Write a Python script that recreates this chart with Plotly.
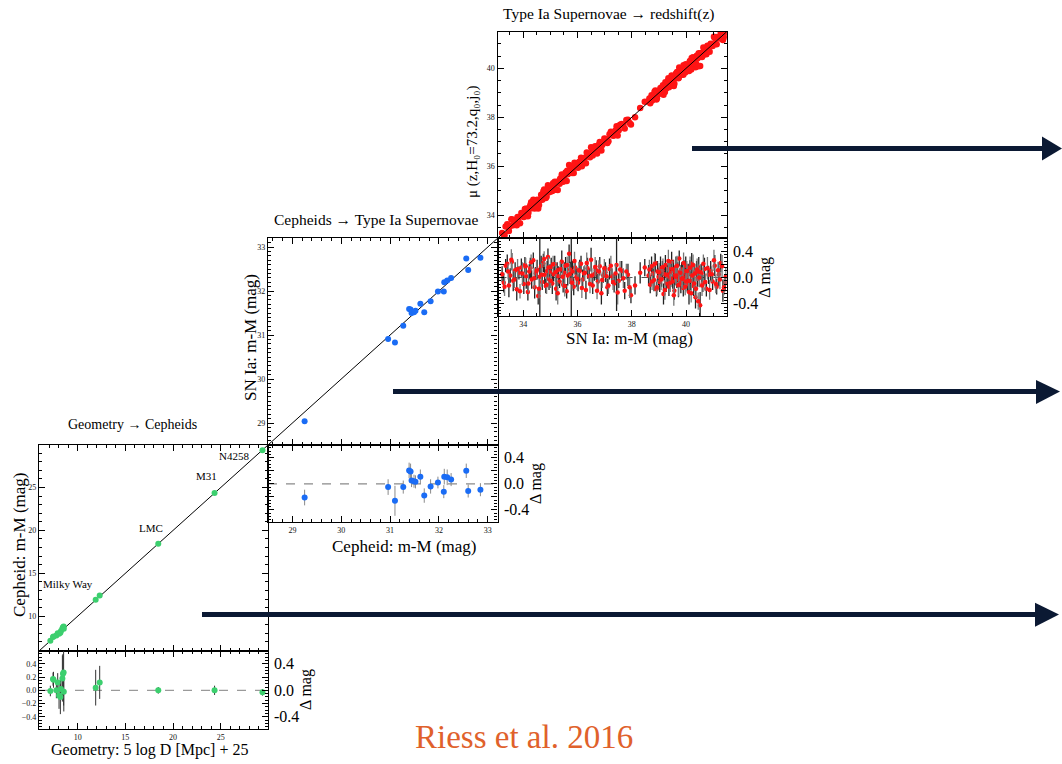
import plotly.graph_objects as go

W, H = 1062, 764
SERIF = "Liberation Serif"

# ---------------- data ----------------
# Panel 1: Geometry -> Cepheids
geo_x = [7.14, 7.42, 7.47, 7.77, 7.91, 8.05, 8.19, 8.25, 8.40, 8.46, 8.53, 8.55, 11.89, 12.31, 18.45, 24.35, 29.37]
geo_y = [7.13, 7.59, 7.63, 7.77, 8.03, 7.97, 8.09, 8.27, 8.58, 8.71, 8.80, 8.53, 11.93, 12.43, 18.45, 24.35, 29.34]
geo_res = [-0.01, 0.17, 0.16, 0.00, 0.12, -0.08, -0.10, 0.02, 0.18, 0.25, 0.27, -0.02, 0.04, 0.12, 0.00, 0.00, -0.03]
geo_err = [0.08, 0.10, 0.12, 0.12, 0.14, 0.20, 0.26, 0.15, 0.35, 0.30, 0.50, 0.30, 0.27, 0.25, 0.05, 0.07, 0.05]
geo_names = ["Milky Way", "LMC", "M31", "N4258"]
geo_name_x = [6.2, 17.7, 23.5, 26.4]
geo_name_y = [13.8, 20.3, 26.3, 28.7]

# Panel 2: Cepheids -> SN Ia
cep_x = [29.25, 30.96, 31.10, 31.27, 31.39, 31.42, 31.44, 31.49, 31.52, 31.62, 31.70, 31.83, 31.98, 32.10, 32.11, 32.17, 32.25, 32.56, 32.60, 32.85]
cep_y = [29.04, 30.91, 30.83, 31.21, 31.59, 31.58, 31.50, 31.52, 31.55, 31.71, 31.52, 31.77, 31.99, 31.99, 32.20, 32.24, 32.30, 32.74, 32.48, 32.76]
cep_res = [-0.21, -0.05, -0.26, -0.05, 0.205, 0.19, 0.05, 0.04, 0.03, 0.11, -0.18, -0.04, 0.02, -0.12, 0.11, 0.10, 0.065, 0.20, -0.11, -0.09]
cep_err = [0.12, 0.12, 0.23, 0.10, 0.12, 0.12, 0.10, 0.10, 0.10, 0.11, 0.11, 0.11, 0.09, 0.10, 0.12, 0.12, 0.10, 0.11, 0.10, 0.10]

# Panel 3: SN Ia -> redshift (sample 1)
sn_x = [33.22, 33.28, 33.35, 33.41, 33.47, 33.52, 33.58, 33.63, 33.70, 33.76, 33.84, 33.93,
        34.02, 34.06, 34.11, 34.17, 34.22, 34.26, 34.31, 34.37, 34.42, 34.46, 34.51, 34.55, 34.61, 34.66, 34.70, 34.74, 34.79, 34.83, 34.88, 34.91, 34.95, 34.98,
        35.03, 35.07, 35.12, 35.16, 35.21, 35.25, 35.29, 35.34, 35.38, 35.42, 35.47, 35.51, 35.56, 35.60, 35.64, 35.69, 35.73, 35.77, 35.82, 35.86, 35.91, 35.96,
        36.02, 36.08, 36.13, 36.19, 36.24, 36.31, 36.37, 36.43, 36.50, 36.56, 36.62, 36.69, 36.75, 36.82, 36.88, 36.95,
        37.03, 37.10, 37.18, 37.27, 37.35, 37.44, 37.52, 37.63, 37.74, 37.86, 37.97, 38.12, 38.31, 38.48,
        38.62, 38.68, 38.73, 38.78, 38.82, 38.87, 38.91, 38.95, 38.99, 39.03, 39.06, 39.10, 39.13, 39.17, 39.20, 39.24, 39.27, 39.31, 39.34, 39.37,
        39.41, 39.44, 39.47, 39.51, 39.54, 39.57, 39.60, 39.63, 39.66, 39.69, 39.72, 39.75, 39.78, 39.81, 39.84, 39.87, 39.90, 39.93, 39.96, 39.99,
        40.02, 40.05, 40.08, 40.11, 40.14, 40.17, 40.21, 40.24, 40.28, 40.31, 40.35, 40.39, 40.43, 40.47, 40.52, 40.57, 40.62, 40.68, 40.75, 40.83,
        40.91, 40.98, 41.06, 41.13, 41.21, 41.28, 41.36, 41.44]
sn_mu = [33.27, 33.20, 33.53, 33.62, 33.35, 33.55, 33.82, 33.58, 33.81, 33.58, 33.91, 34.08,
         33.92, 34.25, 34.13, 33.95, 34.31, 34.40, 34.28, 34.63, 34.27, 34.52, 34.63, 34.27, 34.62, 34.83, 34.63, 34.96, 34.83, 34.70, 34.98, 35.22, 34.93, 35.06,
         35.19, 34.98, 35.17, 35.36, 35.04, 35.36, 35.31, 35.28, 35.51, 35.66, 35.36, 35.58, 35.74, 35.39, 35.67, 36.05, 35.85, 35.73, 35.91, 35.72, 36.06, 35.97,
         35.94, 36.18, 36.34, 36.16, 36.30, 36.12, 36.51, 36.45, 36.77, 36.44, 36.67, 36.80, 36.69, 36.99, 36.64, 36.98,
         37.11, 36.95, 37.31, 37.29, 37.26, 37.63, 37.47, 37.73, 37.54, 37.90, 37.70, 38.00, 38.38, 38.63,
         38.65, 38.57, 38.90, 38.84, 38.78, 39.09, 38.73, 39.04, 39.00, 38.96, 39.20, 39.08, 39.24, 38.92, 39.25, 39.43, 39.18, 39.33, 39.47, 39.23,
         39.48, 39.43, 39.71, 39.45, 39.64, 39.37, 39.64, 39.79, 39.63, 39.77, 39.60, 40.04, 39.78, 39.73, 39.96, 39.92, 39.74, 40.02, 39.92, 40.17,
         40.04, 39.95, 40.14, 39.89, 40.28, 40.12, 40.42, 40.27, 40.15, 40.39, 40.05, 40.50, 40.41, 40.62, 40.10, 40.63, 40.53, 40.81, 40.58, 40.87,
         41.01, 40.92, 41.24, 40.99, 41.26, 41.50, 41.16, 41.36]
sn_res = [0.05, -0.08, 0.18, 0.21, -0.12, 0.03, 0.24, -0.05, 0.11, -0.18, 0.07, 0.15,
          -0.10, 0.19, 0.02, -0.22, 0.09, 0.14, -0.03, 0.26, -0.15, 0.06, 0.12, -0.28, 0.01, 0.17, -0.07, 0.22, 0.04, -0.13, 0.10, 0.31, -0.02, 0.08,
          0.16, -0.09, 0.05, 0.20, -0.17, 0.11, 0.02, -0.06, 0.13, 0.24, -0.11, 0.07, 0.18, -0.21, 0.03, 0.36, 0.12, -0.04, 0.09, -0.14, 0.15, 0.01,
          -0.08, 0.10, 0.21, -0.03, 0.06, -0.19, 0.14, 0.02, 0.27, -0.12, 0.05, 0.11, -0.06, 0.17, -0.24, 0.03,
          0.08, -0.15, 0.13, 0.02, -0.09, 0.19, -0.05, 0.10, -0.20, 0.04, -0.27, -0.12, 0.07, 0.15,
          0.03, -0.11, 0.17, 0.06, -0.04, 0.22, -0.18, 0.09, 0.01, -0.07, 0.14, -0.02, 0.11, -0.25, 0.05, 0.19, -0.09, 0.02, 0.13, -0.14,
          0.07, -0.01, 0.24, -0.06, 0.10, -0.20, 0.04, 0.16, -0.03, 0.08, -0.12, 0.29, 0.00, -0.08, 0.12, 0.05, -0.16, 0.09, -0.04, 0.18,
          0.02, -0.10, 0.06, -0.22, 0.14, -0.05, 0.21, 0.03, -0.13, 0.08, -0.30, 0.11, -0.02, 0.15, -0.42, 0.06, -0.09, 0.13, -0.17, 0.04,
          0.10, -0.06, 0.18, -0.14, 0.05, 0.22, -0.20, -0.08]
sn_err = [0.12, 0.15, 0.10, 0.14, 0.18, 0.11, 0.13, 0.16, 0.12, 0.17, 0.10, 0.14,
          0.15, 0.12, 0.19, 0.13, 0.11, 0.16, 0.14, 0.12, 0.17, 0.10, 0.15, 0.13, 0.70, 0.16, 0.12, 0.14, 0.18, 0.11, 0.15, 0.13, 0.17, 0.12,
          0.14, 0.16, 0.11, 0.13, 0.18, 0.12, 0.15, 0.10, 0.14, 0.17, 0.12, 0.16, 0.13, 0.11, 0.15, 0.14, 0.12, 0.70, 0.16, 0.13, 0.11, 0.15,
          0.13, 0.17, 0.12, 0.15, 0.11, 0.14, 0.16, 0.12, 0.18, 0.13, 0.10, 0.15, 0.12, 0.14, 0.17, 0.11,
          0.15, 0.13, 0.16, 0.12, 0.14, 0.70, 0.11, 0.15, 0.13, 0.17, 0.12, 0.14, 0.16, 0.13,
          0.16, 0.13, 0.15, 0.12, 0.17, 0.14, 0.11, 0.16, 0.13, 0.15, 0.18, 0.12, 0.14, 0.16, 0.11, 0.15, 0.13, 0.17, 0.12, 0.14,
          0.16, 0.13, 0.15, 0.11, 0.17, 0.14, 0.12, 0.16, 0.13, 0.15, 0.18, 0.12, 0.14, 0.16, 0.11, 0.15, 0.13, 0.17, 0.12, 0.14,
          0.16, 0.13, 0.15, 0.19, 0.12, 0.14, 0.16, 0.13, 0.15, 0.11, 0.17, 0.14, 0.12, 0.16, 0.20, 0.15, 0.13, 0.17, 0.12, 0.14,
          0.15, 0.13, 0.16, 0.12, 0.18, 0.14, 0.17, 0.13]

# Panel 3: SN Ia -> redshift (sample 2)
sn_x_b = [33.31, 33.44, 33.56, 33.67, 33.79, 33.88, 33.97, 34.09, 34.19, 34.29, 34.40, 34.49, 34.58, 34.68, 34.77, 34.86, 34.93, 35.01, 35.10, 35.19,
          35.27, 35.36, 35.45, 35.53, 35.62, 35.71, 35.80, 35.89, 35.99, 36.05, 36.16, 36.27, 36.34, 36.46, 36.53, 36.65, 36.72, 36.79, 36.91, 36.99,
          37.07, 37.14, 37.23, 37.31, 37.40, 37.48, 37.57, 37.69, 37.80, 37.92,
          38.65, 38.75, 38.84, 38.93, 39.01, 39.08, 39.15, 39.22, 39.29, 39.35, 39.42, 39.49, 39.55, 39.61, 39.67, 39.73, 39.79, 39.85, 39.91, 39.97,
          40.03, 40.09, 40.15, 40.19, 40.23, 40.26, 40.30, 40.33, 40.37, 40.41, 40.45, 40.49, 40.54, 40.59, 40.64, 40.71, 40.79, 40.87, 40.95, 41.03,
          41.10, 41.18, 41.25, 41.33, 41.40, 41.47, 39.88, 39.64, 40.00, 40.44]
sn_mu_b = [33.17, 33.53, 33.83, 33.64, 33.92, 33.67, 34.03, 34.26, 34.10, 34.52, 34.39, 34.59, 34.41, 34.72, 35.05, 34.75, 35.08, 34.96, 35.30, 35.27,
           35.03, 35.48, 35.46, 35.40, 35.81, 35.76, 35.72, 36.14, 35.97, 36.16, 36.00, 36.34, 36.56, 36.36, 36.56, 36.81, 36.52, 36.88, 36.87, 37.13,
           37.09, 37.02, 37.41, 37.24, 37.46, 37.25, 37.69, 37.68, 37.89, 37.77,
           38.77, 38.69, 39.04, 38.78, 39.09, 39.05, 39.31, 39.03, 39.33, 39.60, 39.34, 39.62, 39.28, 39.62, 39.85, 39.62, 39.86, 39.83, 40.13, 39.83,
           40.13, 40.04, 40.30, 39.95, 40.26, 40.45, 40.21, 40.39, 40.20, 40.53, 40.09, 40.49, 40.62, 40.47, 40.85, 40.64, 40.93, 40.68, 41.00, 41.29,
           41.00, 41.29, 41.22, 41.50, 41.25, 41.49, 39.87, 39.67, 39.94, 40.53]
sn_res_b = [-0.14, 0.09, 0.27, -0.03, 0.13, -0.21, 0.06, 0.17, -0.09, 0.23, -0.01, 0.10, -0.17, 0.04, 0.28, -0.11, 0.15, -0.05, 0.20, 0.08,
            -0.24, 0.12, 0.01, -0.13, 0.19, 0.05, -0.08, 0.25, -0.02, 0.11, -0.16, 0.07, 0.22, -0.10, 0.03, 0.16, -0.20, 0.09, -0.04, 0.14,
            0.02, -0.12, 0.18, -0.07, 0.06, -0.23, 0.12, -0.01, 0.09, -0.15,
            0.12, -0.06, 0.20, -0.15, 0.08, -0.03, 0.16, -0.19, 0.04, 0.25, -0.08, 0.13, -0.27, 0.01, 0.18, -0.11, 0.07, -0.02, 0.22, -0.14,
            0.10, -0.05, 0.15, -0.24, 0.03, 0.19, -0.09, 0.06, -0.17, 0.12, -0.36, 0.00, 0.08, -0.12, 0.21, -0.07, 0.14, -0.19, 0.05, 0.26,
            -0.10, 0.11, -0.03, 0.17, -0.15, 0.02, -0.01, 0.03, -0.06, 0.09]
sn_err_b = [0.14, 0.12, 0.16, 0.13, 0.15, 0.11, 0.17, 0.13, 0.14, 0.12, 0.16, 0.13, 0.15, 0.18, 0.12, 0.14, 0.16, 0.11, 0.13, 0.15,
            0.17, 0.12, 0.14, 0.16, 0.13, 0.15, 0.12, 0.14, 0.17, 0.13, 0.15, 0.12, 0.16, 0.14, 0.11, 0.15, 0.13, 0.17, 0.12, 0.14,
            0.16, 0.13, 0.15, 0.12, 0.14, 0.18, 0.13, 0.15, 0.12, 0.16,
            0.15, 0.13, 0.17, 0.12, 0.14, 0.16, 0.13, 0.15, 0.11, 0.17, 0.14, 0.12, 0.16, 0.13, 0.15, 0.18, 0.12, 0.14, 0.16, 0.13,
            0.15, 0.12, 0.17, 0.14, 0.13, 0.16, 0.12, 0.15, 0.14, 0.17, 0.13, 0.15, 0.12, 0.16, 0.14, 0.13, 0.17, 0.15, 0.12, 0.16,
            0.14, 0.13, 0.15, 0.17, 0.12, 0.14, 0.16, 0.13, 0.15, 0.12]

# unity relation (model line) and axis ranges
unity = [0, 50]
r1 = [5.95, 29.95]
r2 = [28.5, 33.2]
r3 = [33.05, 41.5]
rres = [-0.585, 0.595]
right_ticks = [0.4, 0.0, -0.4]
right_tick_text = ["0.4", "0.0", "-0.4"]

GREEN = "#3ccf6e"
BLUE = "#1a6cf5"
RED = "#ff1414"
NAVY = "#0b1933"
ORANGE = "#e0612b"


def px(x):
    return x / W


def py(y):
    return 1 - y / H


# panel geometry (pixels)
P1 = dict(x0=39, x1=268, top=445, mid=651, bot=729)
P2 = dict(x0=268, x1=497.5, top=238.3, mid=445, bot=522)
P3 = dict(x0=497.5, x1=726.7, top=31.7, mid=238.3, bot=316)

fig = go.Figure()

# ---- panel 1 ----
fig.add_trace(go.Scatter(x=unity, y=unity, mode="lines", line=dict(color="black", width=1), xaxis="x", yaxis="y", hoverinfo="skip"))
fig.add_trace(go.Scatter(x=geo_x, y=geo_y, mode="markers", marker=dict(color=GREEN, size=6), xaxis="x", yaxis="y"))
fig.add_trace(go.Scatter(x=geo_x, y=geo_res, mode="markers", marker=dict(color=GREEN, size=6),
                         error_y=dict(type="data", array=geo_err, color="#333333", thickness=1, width=0),
                         xaxis="x2", yaxis="y2"))
# ---- panel 2 ----
fig.add_trace(go.Scatter(x=unity, y=unity, mode="lines", line=dict(color="black", width=1), xaxis="x3", yaxis="y3", hoverinfo="skip"))
fig.add_trace(go.Scatter(x=cep_x, y=cep_y, mode="markers", marker=dict(color=BLUE, size=6), xaxis="x3", yaxis="y3"))
fig.add_trace(go.Scatter(x=cep_x, y=cep_res, mode="markers", marker=dict(color=BLUE, size=6),
                         error_y=dict(type="data", array=cep_err, color="#8a8a8a", thickness=1, width=0),
                         xaxis="x4", yaxis="y4"))
# ---- panel 3 ----
for xs, ms in ((sn_x, sn_mu), (sn_x_b, sn_mu_b)):
    fig.add_trace(go.Scatter(x=xs, y=ms, mode="markers", marker=dict(color=RED, size=6.5), xaxis="x5", yaxis="y5"))
fig.add_trace(go.Scatter(x=unity, y=unity, mode="lines", line=dict(color="black", width=1), xaxis="x5", yaxis="y5", hoverinfo="skip"))
for xs, rs, es, ec in ((sn_x, sn_res, sn_err, "#222222"), (sn_x_b, sn_res_b, sn_err_b, "#777777")):
    fig.add_trace(go.Scatter(x=xs, y=rs, mode="markers", marker=dict(color=RED, size=4.5),
                             error_y=dict(type="data", array=es, color=ec, thickness=1.3, width=0),
                             xaxis="x6", yaxis="y6"))


def axis(domain, rng, anchor, dtick, minor, labels, tick0=0, tickformat=None):
    d = dict(domain=domain, range=rng, anchor=anchor, showline=True, linecolor="black", linewidth=1.3,
             mirror="allticks", ticks="inside", ticklen=6, tickwidth=1, tickcolor="black",
             tick0=tick0, dtick=dtick, showgrid=False, zeroline=False, showticklabels=labels,
             tickfont=dict(family=SERIF, size=8, color="#111111"),
             minor=dict(ticks="inside", ticklen=3, tickwidth=1, tickcolor="black", dtick=minor, tick0=tick0, showgrid=False))
    if tickformat:
        d["tickformat"] = tickformat
    return d


def xdom(P):
    return [px(P["x0"]), px(P["x1"])]


lay = dict(width=W, height=H, margin=dict(l=0, r=0, t=0, b=0), paper_bgcolor="white", plot_bgcolor="white",
           showlegend=False, font=dict(family=SERIF, color="black"))

lay["xaxis"] = axis(xdom(P1), r1, "y", 5, 1, False)
lay["yaxis"] = axis([py(P1["mid"]), py(P1["top"])], r1, "x", 5, 1, True)
lay["xaxis2"] = axis(xdom(P1), r1, "y2", 5, 1, True)
lay["yaxis2"] = axis([py(P1["bot"]), py(P1["mid"])], rres, "x2", 0.2, 0.05, True, tickformat=".1f")
lay["xaxis3"] = axis(xdom(P2), r2, "y3", 1, 0.2, False)
lay["yaxis3"] = axis([py(P2["mid"]), py(P2["top"])], r2, "x3", 1, 0.1, True)
lay["xaxis4"] = axis(xdom(P2), r2, "y4", 1, 0.2, True)
lay["yaxis4"] = axis([py(P2["bot"]), py(P2["mid"])], rres, "x4", 0.2, 0.05, False)
lay["xaxis5"] = axis(xdom(P3), r3, "y5", 2, 0.5, False)
lay["yaxis5"] = axis([py(P3["mid"]), py(P3["top"])], r3, "x5", 2, 0.5, True)
lay["xaxis6"] = axis(xdom(P3), r3, "y6", 2, 0.5, True)
lay["yaxis6"] = axis([py(P3["bot"]), py(P3["mid"])], rres, "x6", 0.2, 0.05, False)

shapes = []
# zero lines in residual panels
for xa, ya, col in (("x2", "y2", "#9a9a9a"), ("x4", "y4", "#8a8a8a"), ("x6", "y6", "#555555")):
    shapes.append(dict(type="line", xref=f"{xa} domain", yref=ya, x0=0, x1=1, y0=0, y1=0,
                       line=dict(color=col, width=1.2, dash="dash"), layer="below"))

# arrows
arrows = [(692, 1042, 148.5, 136.5, 160.5, 1062), (393, 1036, 391.5, 380, 404, 1060), (202, 1035, 614.5, 602.7, 626.7, 1059)]
for xs, xe, yc, yt, yb, tip in arrows:
    shapes.append(dict(type="line", xref="paper", yref="paper", x0=px(xs), x1=px(xe + 1), y0=py(yc), y1=py(yc),
                       line=dict(color=NAVY, width=5)))
    shapes.append(dict(type="path", xref="paper", yref="paper",
                       path=f"M {px(xe)} {py(yt)} L {px(tip)} {py(yc)} L {px(xe)} {py(yb)} Z",
                       fillcolor=NAVY, line=dict(color=NAVY, width=0)))
lay["shapes"] = shapes

ann = []


def txt(x, y, text, size, angle=0, color="black", xanchor="center", yanchor="middle", xref="paper", yref="paper"):
    ann.append(dict(x=x, y=y, xref=xref, yref=yref, text=text, showarrow=False, textangle=angle,
                    font=dict(family=SERIF, size=size, color=color), xanchor=xanchor, yanchor=yanchor))


# panel titles
txt(px(132), py(425), "Geometry → Cepheids", 14)
txt(px(376), py(219), "Cepheids → Type Ia Supernovae", 15.5)
txt(px(609), py(14), "Type Ia Supernovae → redshift(z)", 15.5)
# axis titles
txt(px(19), py(545), "Cepheid: m-M (mag)", 17, angle=-90)
txt(px(250), py(337), "SN Ia: m-M (mag)", 17, angle=-90)
txt(px(472), py(142), "μ (z,H₀=73.2,q₀,j₀)", 15, angle=-90)
txt(px(149), py(750), "Geometry: 5 log D [Mpc] + 25", 16)
txt(px(404), py(546), "Cepheid: m-M (mag)", 17)
txt(px(629), py(338), "SN Ia: m-M (mag)", 17)
# right-side residual labels
for P, ya in ((P1, "y2"), (P2, "y4"), (P3, "y6")):
    for v, t in zip(right_ticks, right_tick_text):
        txt(px(P["x1"] + 4), v, t, 16, xanchor="left", yref=ya)
    txt(px(P["x1"] + 38), py((P["mid"] + P["bot"]) / 2), "Δ mag", 16, angle=-90)
# object labels
for n, x, y in zip(geo_names, geo_name_x, geo_name_y):
    txt(x, y, n, 11, xanchor="left" if n == "Milky Way" else "center", xref="x", yref="y")
# citation
txt(px(524), py(737), "Riess et al. 2016", 33, color=ORANGE)
lay["annotations"] = ann

fig.update_layout(**lay)
fig.write_html("out.html")
